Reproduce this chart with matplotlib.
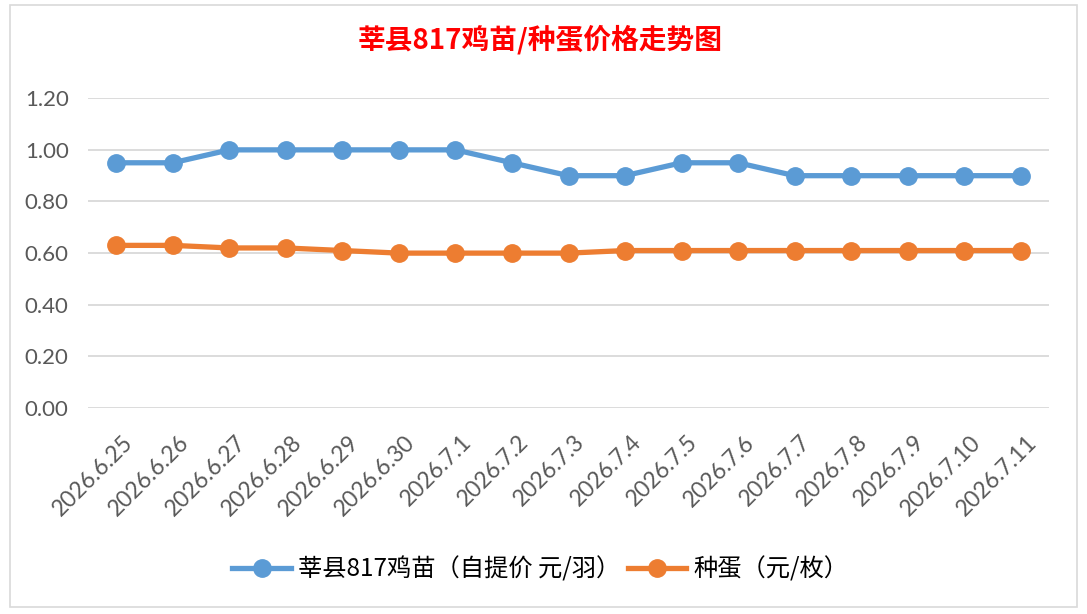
import matplotlib.pyplot as plt
import matplotlib.transforms as mtransforms
from matplotlib.patches import Rectangle

dates = ["2026.6.25", "2026.6.26", "2026.6.27", "2026.6.28", "2026.6.29", "2026.6.30",
         "2026.7.1", "2026.7.2", "2026.7.3", "2026.7.4", "2026.7.5", "2026.7.6",
         "2026.7.7", "2026.7.8", "2026.7.9", "2026.7.10", "2026.7.11"]
chick = [0.95, 0.95, 1.00, 1.00, 1.00, 1.00, 1.00, 0.95, 0.90, 0.90, 0.95, 0.95,
         0.90, 0.90, 0.90, 0.90, 0.90]
egg = [0.63, 0.63, 0.62, 0.62, 0.61, 0.60, 0.60, 0.60, 0.60, 0.61, 0.61, 0.61,
       0.61, 0.61, 0.61, 0.61, 0.61]
yticks = [0.0, 0.2, 0.4, 0.6, 0.8, 1.0, 1.2]

plt.rcParams['font.family'] = ['Lato', 'Noto Sans CJK SC', 'DejaVu Sans']

fig = plt.figure(figsize=(10.87, 6.14), dpi=100)
ax = fig.add_axes([0.081, 0.3355, 0.884, 0.5045])

x = list(range(len(dates)))
ax.plot(x, chick, color="#5B9BD5", lw=3.8, marker="o", ms=12.5,
        label="莘县817鸡苗（自提价 元/羽）", solid_joinstyle="round")
ax.plot(x, egg, color="#ED7D31", lw=3.8, marker="o", ms=12.5,
        label="种蛋（元/枚）", solid_joinstyle="round")

ax.set_xlim(-0.5, len(dates) - 0.5)
ax.set_ylim(0, 1.2)
ax.set_yticks(yticks)
ax.set_yticklabels([f"{v:.2f}" for v in yticks], fontsize=16, color="#595959")
ax.set_xticks(x)
ax.set_xticklabels(dates, rotation=45, ha="right", va="top", rotation_mode="anchor",
                   fontsize=16.5, color="#595959")
ax.tick_params(axis="both", length=0)
ax.tick_params(axis="x", pad=17)
ax.tick_params(axis="y", pad=14)
# nudge the date labels a little to the right
shift = mtransforms.ScaledTranslation(4 / 72, 0, fig.dpi_scale_trans)
for lab in ax.get_xticklabels():
    lab.set_transform(lab.get_transform() + shift)
ax.grid(axis="y", color="#D9D9D9", lw=1.3)
ax.set_axisbelow(True)
for s in ax.spines.values():
    s.set_visible(False)

fig.text(0.497, 0.935, "莘县817鸡苗/种蛋价格走势图", color="red", fontsize=20,
         fontweight="bold", ha="center", va="center",
         family=["Noto Sans CJK SC", "DejaVu Sans"])

fig.legend(loc="center", bbox_to_anchor=(0.497, 0.073), ncol=2, frameon=False,
           handlelength=2.4, columnspacing=0.3, handletextpad=0.3,
           prop={"family": ["Noto Sans CJK SC", "DejaVu Sans"], "size": 17.5})

fig.patches.append(Rectangle((0.009, 0.012), 0.982, 0.98, transform=fig.transFigure,
                             fill=False, edgecolor="#D9D9D9", lw=1.2))

fig.savefig("out.png", dpi=100)
